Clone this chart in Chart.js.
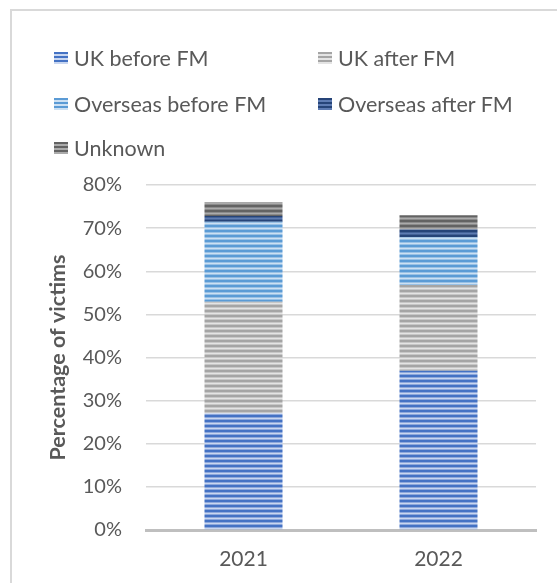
<!DOCTYPE html>
<html>
<head>
<meta charset="utf-8">
<script src="https://cdn.jsdelivr.net/npm/chart.js@4/dist/chart.umd.min.js"></script>
<style>
  body { margin: 0; background: #fff; font-family: Lato, "Open Sans", sans-serif; }
  #wrap { position: relative; width: 557px; height: 583px; overflow: hidden; }
  #frame { position: absolute; left: 10px; top: 9px; width: 600px; height: 600px;
           border-left: 2px solid #D9D9D9; border-top: 2px solid #D9D9D9; }
  canvas { position: absolute; left: 0; top: 0; }
  .leg { position: absolute; font-size: 21.5px; color: #595959; white-space: nowrap; line-height: 26px; }
  .sw { position: absolute; width: 14px; height: 12px; }
</style>
</head>
<body>
<div id="wrap">
  <div id="frame"></div>
  <canvas id="chart" width="557" height="583"></canvas>
  <div id="legend"></div>
</div>
<script>
const years = ['2021', '2022'];
const ukBefore = [27.1, 36.9];
const ukAfter = [25.8, 19.9];
const overseasBefore = [18.6, 11.1];
const overseasAfter = [1.3, 1.8];
const unknown = [3.2, 3.3];
const yTicks = [0, 10, 20, 30, 40, 50, 60, 70, 80];

// dark / light stripe colours for each series
const series = [
  { label: 'UK before FM', data: ukBefore, dark: '#4472C4', light: '#C8D6F0' },
  { label: 'UK after FM', data: ukAfter, dark: '#A5A5A5', light: '#E4E4E4' },
  { label: 'Overseas before FM', data: overseasBefore, dark: '#5B9BD5', light: '#CCE0F3' },
  { label: 'Overseas after FM', data: overseasAfter, dark: '#264478', light: '#5E7CB3' },
  { label: 'Unknown', data: unknown, dark: '#636363', light: '#ABABAB' }
];

function stripes(dark, light) {
  const c = document.createElement('canvas');
  c.width = 8; c.height = 5;
  const g = c.getContext('2d');
  g.fillStyle = light; g.fillRect(0, 0, 8, 5);
  g.fillStyle = dark; g.fillRect(0, 0, 8, 2);
  g.globalAlpha = 0.45; g.fillRect(0, 2, 8, 1); g.fillRect(0, 4, 8, 1);
  return g.createPattern(c, 'repeat');
}

// legend (two columns, like the original)
const legPos = [[54, 58], [318, 58], [54, 104], [318, 104], [54, 148]];
const legend = document.getElementById('legend');
series.forEach((s, i) => {
  const [x, y] = legPos[i];
  const sw = document.createElement('div');
  sw.className = 'sw';
  sw.style.left = x + 'px';
  sw.style.top = (y - 6) + 'px';
  sw.style.background = `repeating-linear-gradient(${s.dark} 0 2px, ${s.light} 2px 4px)`;
  legend.appendChild(sw);
  const t = document.createElement('div');
  t.className = 'leg';
  t.style.left = (x + 20) + 'px';
  t.style.top = (y - 13) + 'px';
  t.textContent = s.label;
  legend.appendChild(t);
});

const ctx = document.getElementById('chart').getContext('2d');
new Chart(ctx, {
  type: 'bar',
  data: {
    labels: years,
    datasets: series.map(s => ({
      label: s.label,
      data: s.data,
      backgroundColor: stripes(s.dark, s.light),
      borderWidth: 0,
      barPercentage: 0.4,
      categoryPercentage: 1
    }))
  },
  options: {
    responsive: false,
    animation: false,
    layout: { padding: { left: 41, right: 21, top: 185, bottom: 0 } },
    plugins: { legend: { display: false }, tooltip: { enabled: false } },
    scales: {
      x: {
        stacked: true,
        grid: { display: false, drawTicks: false },
        border: { color: '#BFBFBF', width: 3 },
        ticks: { color: '#595959', font: { family: 'Lato', size: 21 }, padding: 17 },
        afterFit: s => { s.height = 53; }
      },
      y: {
        stacked: true,
        min: 0,
        max: 80,
        afterBuildTicks: s => { s.ticks = yTicks.map(v => ({ value: v })); },
        grid: {
          drawTicks: false,
          color: c => c.tick && c.tick.value === 0 ? 'rgba(0,0,0,0)' : '#D9D9D9',
          lineWidth: 1.5
        },
        border: { display: false },
        ticks: {
          color: '#595959',
          font: { family: 'Lato', size: 20 },
          padding: 24,
          callback: v => v + '%'
        },
        title: {
          display: true,
          text: 'Percentage of victims',
          color: '#595959',
          font: { family: 'Lato', size: 21.5, weight: 'bold' }
        },
        afterFit: s => { s.width = 105; }
      }
    }
  }
});
</script>
</body>
</html>
